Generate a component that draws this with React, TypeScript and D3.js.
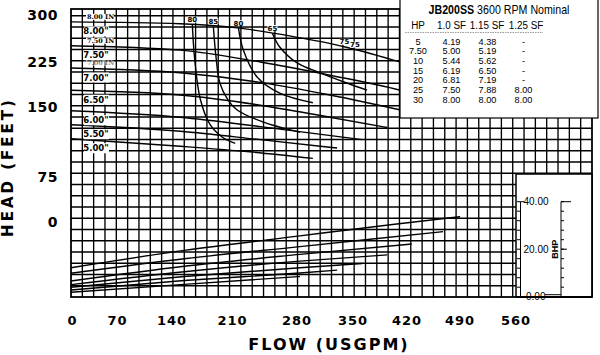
import React from "react";
import * as d3 from "d3";

const W = 600;
const H = 355;

// ---- axis ticks ----
const flowTicks = [0, 70, 140, 210, 280, 350, 420, 490, 560];
const headTicks = [300, 225, 150, 75, 0];
const bhpTicks = [0, 20, 40];

// ---- impeller diameters ----
const diameters = ['8.00"', '7.50"', '7.00"', '6.50"', '6.00"', '5.50"', '5.00"'];
const diameterTags = ["8.00 IN", "7.50 IN", "7.00 IN"];

// head curves [flow USGPM, head ft]
const head800: [number, number][] = [[0, 289], [135, 286], [209, 279], [250, 271], [339, 249], [407, 225], [481, 195]];
const head750: [number, number][] = [[0, 251], [135, 244], [234, 225], [320, 203], [407, 178], [460, 158]];
const head700: [number, number][] = [[0, 215], [135, 207], [234, 191], [320, 170], [422, 144]];
const head650: [number, number][] = [[0, 178], [135, 170], [234, 153], [320, 139], [391, 128]];
const head600: [number, number][] = [[0, 146], [135, 139], [234, 129], [360, 115]];
const head550: [number, number][] = [[0, 131], [135, 124], [234, 115], [329, 106]];
const head500: [number, number][] = [[0, 116], [135, 108], [221, 102], [299, 95]];

// brake horsepower curves [flow, BHP]
const bhp800: [number, number][] = [[0, 12.2], [140, 19.5], [283, 25.6], [400, 30.5], [481, 33.7]];
const bhp750: [number, number][] = [[0, 9.9], [140, 16], [283, 21.1], [460, 27.4]];
const bhp700: [number, number][] = [[0, 6.6], [140, 12.8], [283, 17.8], [421, 22.2]];
const bhp650: [number, number][] = [[0, 5.1], [140, 10.5], [283, 15], [391, 17.6]];
const bhp600: [number, number][] = [[0, 4.0], [140, 8.5], [283, 12.2], [360, 14]];
const bhp550: [number, number][] = [[0, 2.8], [140, 6.8], [283, 10], [329, 11.2]];
const bhp500: [number, number][] = [[0, 1.9], [140, 5.2], [283, 8.5]];

// efficiency iso-curves [flow, head]
const eff80a: [number, number][] = [[150, 284], [153, 228], [160, 162], [172, 131], [188, 117], [203, 111]];
const eff85: [number, number][] = [[176, 281], [179, 236], [184, 190], [194, 162], [205, 147], [237, 134], [283, 123]];
const eff80b: [number, number][] = [[207, 279], [213, 244], [230, 200], [258, 173], [299, 157]];
const eff65: [number, number][] = [[249, 271], [258, 249], [280, 223], [308, 207], [341, 190], [366, 178]];
const effLabels = ["80", "85", "80", "65", "75", "75"];
const effLabelFlows = [150, 176, 207, 249, 338, 351];

// ---- HP table ----
const tableTitleBold = "JB200SS";
const tableTitleRest = " 3600 RPM Nominal";
const tableHeaders = ["HP", "1.0 SF", "1.15 SF", "1.25 SF"];
const hpValues = ["5", "7.50", "10", "15", "20", "25", "30"];
const sf100 = ["4.19", "5.00", "5.44", "6.19", "6.81", "7.50", "8.00"];
const sf115 = ["4.38", "5.19", "5.62", "6.50", "7.19", "7.88", "8.00"];
const sf125 = ["-", "-", "-", "-", "-", "8.00", "8.00"];

const headCurves = [head800, head750, head700, head650, head600, head550, head500];
const bhpCurves = [bhp800, bhp750, bhp700, bhp650, bhp600, bhp550, bhp500];
const effCurves = [eff80a, eff85, eff80b, eff65];

export default function App() {
  const left = 71, right = 592, top = 9, bottom = 297;
  const x = d3.scaleLinear().domain([0, 644]).range([left, right]);
  const xLab = d3.scaleLinear().domain(flowTicks).range([72.5, 117.5, 172, 232.5, 297, 353, 407, 460, 516]);
  const y = d3.scaleLinear().domain([0, 75, 150, 225, 300]).range([222, 177, 107, 62, 15]);
  const bhp = d3.scaleLinear().domain([0, 40]).range([296.7, 201.7]);
  const row = d3.scaleLinear().domain([0, 25.6]).range([bottom, top]);

  const headLine = d3.line<[number, number]>().x(d => x(d[0])).y(d => y(d[1])).curve(d3.curveMonotoneX);
  const bhpLine = d3.line<[number, number]>().x(d => x(d[0])).y(d => bhp(d[1])).curve(d3.curveMonotoneX);
  const effLine = d3.line<[number, number]>().x(d => x(d[0])).y(d => y(d[1])).curve(d3.curveCatmullRom);

  const vGrid = d3.range(14, 644, 14);
  const hGrid = d3.range(1, 26);

  const headAt = (curve: [number, number][], f: number) => {
    for (let i = 0; i < curve.length - 1; i++) {
      const [f0, h0] = curve[i], [f1, h1] = curve[i + 1];
      if (f >= f0 && f <= f1) return h0 + ((h1 - h0) * (f - f0)) / (f1 - f0);
    }
    return curve[curve.length - 1][1];
  };

  const bold = "'DejaVu Sans', sans-serif";
  const arial = "'Liberation Sans', Arial, sans-serif";

  const colX = [418, 451.5, 487.5, 523.5];
  const headX = [418, 451.5, 487, 526];
  const rowBase = d3.scaleLinear().domain([0, 6]).range([44.5, 102.5]);
  const tableCols = [hpValues, sf100, sf115, sf125];
  const condensed = (cx: number, cy: number, sx = 0.84) => `translate(${cx},${cy}) scale(${sx},1)`;

  const bhpMinor = d3.range(0, 41, 4);

  return (
    <svg width={W} height={H} style={{ display: "block", position: "absolute", left: 0, top: 0, background: "#fff" }}>
      <rect x={0} y={0} width={W} height={H} fill="#fff" />
      {/* grid */}
      <g stroke="#000" strokeWidth={1.35}>
        {vGrid.map(v => (
          <line key={"v" + v} x1={x(v)} x2={x(v)} y1={top} y2={bottom} />
        ))}
        {hGrid.map(r => (
          <line key={"h" + r} x1={left} x2={right} y1={row(r)} y2={row(r)} />
        ))}
      </g>
      <rect x={left} y={top} width={right - left} height={bottom - top} fill="none" stroke="#000" strokeWidth={1.8} />

      {/* curves */}
      <g fill="none" stroke="#000" strokeWidth={1.4}>
        {headCurves.map((c, i) => (
          <path key={"hc" + i} d={headLine(c) || ""} />
        ))}
        {effCurves.map((c, i) => (
          <path key={"ec" + i} d={effLine(c) || ""} />
        ))}
        {bhpCurves.map((c, i) => (
          <path key={"bc" + i} d={bhpLine(c) || ""} />
        ))}
      </g>

      {/* efficiency labels */}
      <g fontFamily={bold} fontWeight="bold" fontSize={7} textAnchor="middle" fill="#000">
        {effLabels.map((t, i) => (
          <g key={"el" + i}>
            <rect x={x(effLabelFlows[i]) - 5} y={y(headAt(head800, effLabelFlows[i])) - 8} width={10} height={6} fill="#fff" />
            <text x={x(effLabelFlows[i])} y={y(headAt(head800, effLabelFlows[i])) - 2.5}>{t}</text>
          </g>
        ))}
      </g>

      {/* diameter labels */}
      <g fontFamily={bold} fontWeight="bold" fontSize={8.5} textAnchor="middle" fill="#000">
        {diameters.map((d, i) => {
          const cy = y(headCurves[i][0][1]) + 9.5;
          return (
            <g key={"dl" + i}>
              <rect x={84} y={cy - 5} width={25} height={10} fill="#fff" />
              <text x={96} y={cy + 3}>{d}</text>
            </g>
          );
        })}
      </g>
      <g fontFamily="'DejaVu Serif', serif" fontWeight="bold" fontSize={6.5} fill="#000">
        {diameterTags.map((t, i) => {
          const cy = y(headCurves[i][0][1]) - 3;
          return (
            <g key={"dt" + i} opacity={i === 2 ? 0.45 : 1}>
              <rect x={86} y={cy - 5} width={28} height={6} fill="#fff" />
              <text x={87} y={cy}>{t}</text>
            </g>
          );
        })}
      </g>

      {/* BHP inset */}
      <rect x={516} y={174} width={right - 516} height={bottom - 174} fill="#fff" />
      <line x1={516} x2={516} y1={174} y2={bottom} stroke="#000" strokeWidth={1.5} />
      <line x1={516} x2={right} y1={174} y2={174} stroke="#000" strokeWidth={1.5} />
      <line x1={right} x2={right} y1={174} y2={bottom} stroke="#000" strokeWidth={1.8} />
      <line x1={516} x2={right} y1={bottom} y2={bottom} stroke="#000" strokeWidth={1.8} />
      <g stroke="#000" strokeWidth={1}>
        <line x1={520.5} x2={520.5} y1={bhp(40)} y2={bhp(0)} />
        <line x1={561} x2={561} y1={bhp(40)} y2={bhp(0)} />
        {bhpMinor.map(b => (
          <g key={"bt" + b}>
            <line x1={517} x2={520.5} y1={bhp(b)} y2={bhp(b)} />
            <line x1={561} x2={564} y1={bhp(b)} y2={bhp(b)} />
          </g>
        ))}
        <line x1={520.5} x2={524} y1={bhp(40)} y2={bhp(40)} />
        <line x1={561} x2={571} y1={bhp(40)} y2={bhp(40)} />
        <line x1={561} x2={567} y1={bhp(20)} y2={bhp(20)} />
        <line x1={520.5} x2={524} y1={bhp(0)} y2={bhp(0)} />
        <line x1={545} x2={561} y1={bhp(0) - 2} y2={bhp(0) - 2} />
      </g>
      <g fontFamily={arial} fontSize={10} fill="#000">
        {bhpTicks.map(b => (
          <text key={"bl" + b} x={b === 0 ? 526 : 523.5} y={bhp(b) + 3.5}>{b.toFixed(2)}</text>
        ))}
      </g>
      <text transform={`translate(557.5,${bhp(20)}) rotate(-90)`} textAnchor="middle" fontFamily={arial} fontWeight="bold" fontSize={9} fill="#000">BHP</text>

      {/* HP table */}
      <rect x={400} y={-1} width={198} height={119} fill="#fff" stroke="#000" strokeWidth={1.2} />
      <text transform={condensed(499, 13.5, 0.82)} textAnchor="middle" fontFamily={arial} fontSize={13} fill="#000">
        <tspan fontWeight="bold">{tableTitleBold}</tspan>
        <tspan>{tableTitleRest}</tspan>
      </text>
      <g fontFamily={arial} fontSize={11.5} fill="#000" textAnchor="middle">
        {tableHeaders.map((h, i) => (
          <text key={"th" + i} transform={condensed(headX[i], 29, 0.86)}>{h}</text>
        ))}
      </g>
      <line x1={405} x2={543} y1={32.5} y2={32.5} stroke="#999" strokeWidth={1} strokeDasharray="1.5,1" />
      <g fontFamily={arial} fontSize={8.5} fill="#000" textAnchor="middle">
        {tableCols.map((col, ci) =>
          col.map((v, ri) => (
            <text key={"tc" + ci + "_" + ri} transform={condensed(colX[ci], rowBase(ri), 1.08)}>{v}</text>
          ))
        )}
      </g>

      {/* axis labels */}
      <g fontFamily={bold} fontWeight="bold" fontSize={14} fill="#000" textAnchor="end" letterSpacing={0.5}>
        {headTicks.map(t => (
          <text key={"yt" + t} x={58} y={y(t) + 5}>{t}</text>
        ))}
      </g>
      <g fontFamily={bold} fontWeight="bold" fontSize={13} fill="#000" textAnchor="middle" letterSpacing={1}>
        {flowTicks.map(t => (
          <text key={"xt" + t} x={xLab(t)} y={325}>{t}</text>
        ))}
      </g>
      <text x={329} y={350} textAnchor="middle" fontFamily={bold} fontWeight="bold" fontSize={16} letterSpacing={2} fill="#000">FLOW (USGPM)</text>
      <text transform="translate(13,167) rotate(-90)" textAnchor="middle" fontFamily={bold} fontWeight="bold" fontSize={15} letterSpacing={3} fill="#000">HEAD (FEET)</text>
    </svg>
  );
}
